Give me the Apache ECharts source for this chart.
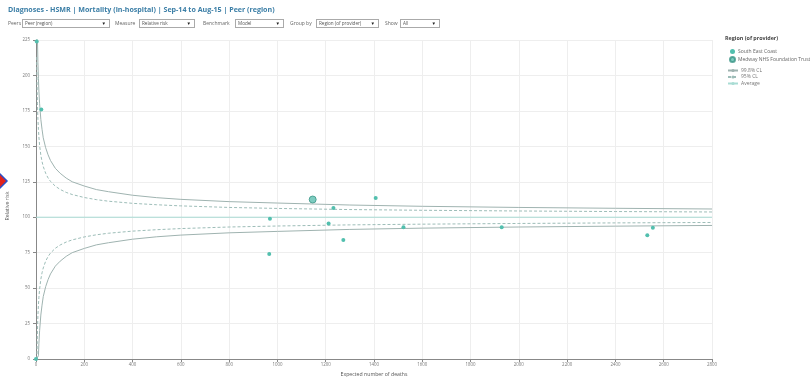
<!DOCTYPE html>
<html>
<head>
<meta charset="utf-8">
<script src="https://cdn.jsdelivr.net/npm/echarts@6/dist/echarts.min.js"></script>
<style>
  html, body { margin: 0; padding: 0; background: #fff; }
  #wrap { position: relative; width: 810px; height: 382px; overflow: hidden; font-family: "Open Sans", "Liberation Sans", sans-serif; }
  #chart { position: absolute; left: 0; top: 0; width: 810px; height: 382px; }
  #ttl { position: absolute; left: 8px; top: 4px; font-size: 7.1px; font-weight: bold; color: #3b7ea6; white-space: nowrap; z-index: 2; }
  .lbl { position: absolute; top: 20px; font-size: 5px; color: #666; white-space: nowrap; z-index: 2; }
  .box { position: absolute; top: 19px; height: 7px; border: 1px solid #aaa; background: #fff; font-size: 4.6px; line-height: 7px; color: #555; padding-left: 2px; box-sizing: content-box; z-index: 2; white-space: nowrap; }
  .box span { position: absolute; right: 3px; top: 0; font-size: 4.5px; color: #222; }
</style>
</head>
<body>
<div id="wrap">
  <div id="chart"></div>
  <div id="ttl">Diagnoses - HSMR | Mortality (in-hospital) | Sep-14 to Aug-15 | Peer (region)</div>
  <div class="lbl" style="left:8px">Peers #:</div>
  <div class="box" style="left:22px;width:84px">Peer (region)<span>▼</span></div>
  <div class="lbl" style="left:115px">Measure</div>
  <div class="box" style="left:139px;width:52px">Relative risk<span>▼</span></div>
  <div class="lbl" style="left:203px">Benchmark</div>
  <div class="box" style="left:235px;width:45px">Model<span>▼</span></div>
  <div class="lbl" style="left:290px">Group by</div>
  <div class="box" style="left:316px;width:59px">Region (of provider)<span>▼</span></div>
  <div class="lbl" style="left:385px">Show</div>
  <div class="box" style="left:400px;width:36px">All<span>▼</span></div>
</div>
<script>
// ---- data ----
const xTicks = [0, 200, 400, 600, 800, 1000, 1200, 1400, 1600, 1800, 2000, 2200, 2400, 2600, 2800];
const yTicks = [0, 25, 50, 75, 100, 125, 150, 175, 200, 225];

const southEastCoast = [
  [0, 0], [3, 224], [22, 176], [969, 99], [966, 74], [1232, 106.5], [1212, 95.5],
  [1273, 84], [1407, 113.6], [1522, 93], [1929, 93], [2555, 92.6], [2532, 87.2]
];
const medway = [[1146, 112.5]];

const limitE = [3, 4, 5, 6, 8, 10, 12, 15, 20, 25, 30, 40, 50, 60, 80, 100, 125, 150, 200, 250, 300, 400, 500, 600, 800, 1000, 1300, 1600, 2000, 2400, 2800];
const upper998 = [278, 254, 238, 226, 209, 198, 189, 180, 169, 162, 156, 149, 144, 140, 134.5, 131, 127.6, 125, 122, 119.5, 118, 115.5, 113.8, 112.6, 111, 110, 108.6, 107.7, 106.9, 106.3, 105.8];
const lower998 = [0, 0, 0, 0, 0, 2.3, 10.8, 20, 31, 38, 44, 51, 56, 60, 65.5, 69, 72.4, 75, 78, 80.5, 82, 84.5, 86.2, 87.4, 89, 90, 91.4, 92.3, 93.1, 93.7, 94.2];
const upper95 = [213, 198, 188, 180, 169, 162, 156.6, 150.6, 143.8, 139.2, 135.8, 131, 127.7, 125.3, 121.9, 119.6, 117.5, 116, 113.9, 112.4, 111.3, 109.8, 108.8, 108, 106.9, 106.2, 105.4, 104.9, 104.4, 104, 103.7];
const lower95 = [0, 2, 12.3, 20, 30.7, 38, 43.4, 49.4, 56.2, 60.8, 64.2, 69, 72.3, 74.7, 78.1, 80.4, 82.5, 84, 86.1, 87.6, 88.7, 90.2, 91.2, 92, 93.1, 93.8, 94.6, 95.1, 95.6, 96, 96.3];
const averageLine = [[0, 100], [2800, 100]];

const pair = (xs, ys) => xs.map((x, i) => [x, ys[i]]);

const FONT = '"Open Sans", "Liberation Sans", sans-serif';
const teal = '#52bfae';
const clColor = '#9fb3b0';
const cl95Color = '#9dbdb8';

const chart = echarts.init(document.getElementById('chart'), null, { renderer: 'canvas' });
chart.setOption({
  animation: false,
  textStyle: { fontFamily: FONT },
  grid: { left: 36, right: 98, top: 40, bottom: 18 },
  xAxis: {
    type: 'value', min: 0, max: 2800, interval: 200,
    name: 'Expected number of deaths', nameLocation: 'middle', nameGap: 13,
    nameTextStyle: { fontSize: 5.2, color: '#555', fontFamily: FONT },
    axisLine: { show: true, lineStyle: { color: '#888', width: 1 } },
    axisTick: { show: true, length: 3, lineStyle: { color: '#888' } },
    axisLabel: { fontSize: 4.4, color: '#777', margin: 4, fontFamily: FONT, showMaxLabel: true, showMinLabel: true,
      formatter: v => xTicks.includes(v) ? String(v) : '' },
    splitLine: { show: true, lineStyle: { color: '#eeeeee', width: 1 } }
  },
  yAxis: {
    type: 'value', min: 0, max: 225, interval: 25,
    axisLine: { show: true, lineStyle: { color: '#888', width: 1 } },
    axisTick: { show: true, length: 3, lineStyle: { color: '#888' } },
    axisLabel: { fontSize: 4.4, color: '#777', margin: 6, fontFamily: FONT,
      formatter: v => yTicks.includes(v) ? String(v) : '' },
    splitLine: { show: true, lineStyle: { color: '#eeeeee', width: 1 } }
  },
  legend: [
    {
      orient: 'vertical', left: 724, top: 44, itemGap: 2, itemWidth: 5, itemHeight: 5,
      textStyle: { fontSize: 5, color: '#666', fontFamily: FONT, padding: [0, 0, 0, -2] },
      data: [
        { name: 'South East Coast', icon: 'circle', itemStyle: { color: teal } },
        { name: 'Medway NHS Foundation Trust', icon: 'circle' }
      ]
    },
    {
      orient: 'vertical', left: 722, top: 63, itemGap: 1.5, itemWidth: 10, itemHeight: 4,
      textStyle: { fontSize: 5, color: '#777', fontFamily: FONT, padding: [0, 0, 0, -2] },
      data: ['99.8% CL', '95% CL', 'Average']
    }
  ],
  graphic: [
    { type: 'text', left: 725, top: 36, style: { text: 'Region (of provider)', fontSize: 5.4, fontWeight: 'bold', fill: '#444', fontFamily: FONT } },
    { type: 'text', x: 8, y: 206, rotation: Math.PI / 2, style: { text: 'Relative risk', fontSize: 5.2, fill: '#555', fontFamily: FONT, align: 'center', verticalAlign: 'middle' } },
    { type: 'polygon', shape: { points: [[-4, 170], [7, 181], [-4, 192], [-15, 181]] },
      style: { fill: '#e2231a', stroke: '#2a4fc8', lineWidth: 1.5 }, z: 100 }
  ],
  series: [
    { name: 'Average', type: 'line', data: averageLine, symbol: 'none', silent: true,
      lineStyle: { color: '#a9dcd4', width: 1 }, itemStyle: { color: '#a9dcd4' }, z: 1 },
    { name: '99.8% CL', type: 'line', data: pair(limitE, upper998), symbol: 'none', clip: true,
      lineStyle: { color: clColor, width: 1 }, itemStyle: { color: clColor }, z: 2 },
    { name: '99.8% CL', type: 'line', data: pair(limitE, lower998), symbol: 'none', clip: true,
      lineStyle: { color: clColor, width: 1 }, itemStyle: { color: clColor }, z: 2 },
    { name: '95% CL', type: 'line', data: pair(limitE, upper95), symbol: 'none', clip: true,
      lineStyle: { color: cl95Color, width: 1, type: [3, 2] }, itemStyle: { color: cl95Color }, z: 2 },
    { name: '95% CL', type: 'line', data: pair(limitE, lower95), symbol: 'none', clip: true,
      lineStyle: { color: cl95Color, width: 1, type: [3, 2] }, itemStyle: { color: cl95Color }, z: 2 },
    { name: 'South East Coast', type: 'scatter', data: southEastCoast, symbolSize: 4, clip: false,
      itemStyle: { color: teal, opacity: 1 }, z: 5 },
    { name: 'Medway NHS Foundation Trust', type: 'scatter', data: medway, symbolSize: 7,
      itemStyle: { color: '#5cbfb0', borderColor: '#3a9586', borderWidth: 1 }, z: 6 }
  ]
});
</script>
</body>
</html>
